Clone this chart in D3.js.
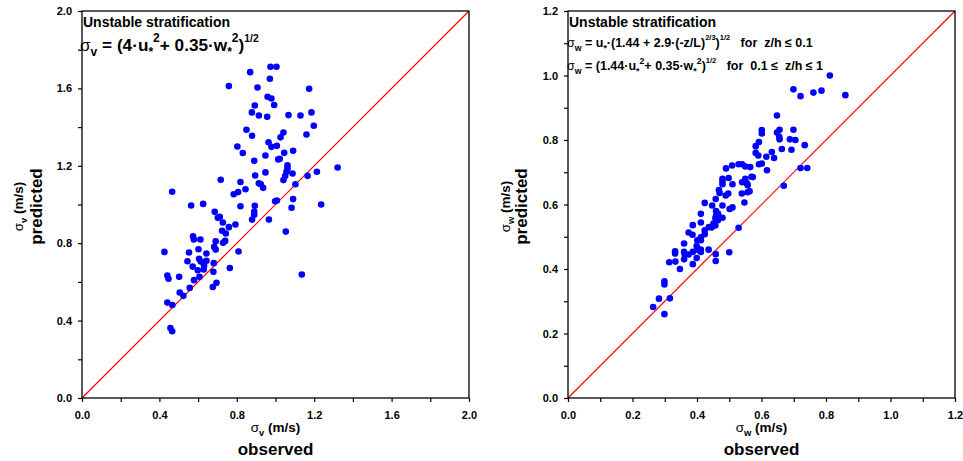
<!DOCTYPE html>
<html lang="en">
<head>
    <meta charset="UTF-8">
    <title>Unstable stratification - sigma v / sigma w</title>
    <style>
        body { margin: 0; background: #fff; }
        svg text { font-family: Arial, "Liberation Sans", sans-serif; }
    </style>
</head>
<body>
    <svg width="963" height="461"></svg>

    <script src="https://d3js.org/d3.v7.min.js"></script>
    <script>
        // sigma_v panel (left)
        let vObserved = [0.759, 0.869, 0.974, 1.005, 0.971, 0.907, 1.174, 0.959, 0.979, 0.893,
            0.993, 0.878, 0.914, 0.957, 1.067, 1.129, 1.186, 1.198, 1.160, 0.850,
            0.879, 1.041, 1.026, 0.964, 0.979, 1.007, 0.803, 0.831, 1.045, 1.091,
            0.948, 0.890, 1.014, 1.022, 1.062, 1.062, 1.057, 0.948, 0.895, 1.088,
            1.050, 1.041, 1.166, 1.214, 1.321, 0.717, 0.819, 0.914, 0.924, 0.936,
            1.103, 0.845, 0.784, 0.807, 0.466, 1.091, 0.998, 1.007, 1.236, 0.564,
            0.626, 0.819, 0.893, 1.083, 0.686, 0.890, 0.890, 0.712, 0.702, 0.879,
            0.966, 0.728, 0.759, 0.793, 0.724, 0.743, 1.053, 0.740, 0.691, 0.729,
            0.683, 0.691, 0.574, 0.578, 0.612, 0.602, 0.553, 0.426, 0.643, 0.809,
            0.605, 0.614, 0.643, 0.545, 0.572, 0.598, 0.629, 0.631, 0.681, 0.764,
            0.679, 0.441, 0.447, 0.502, 0.579, 0.607, 0.695, 0.676, 0.557, 0.505,
            0.524, 0.441, 0.467, 1.136, 0.457, 0.466];
        let vPredicted = [1.612, 1.684, 1.712, 1.712, 1.650, 1.605, 1.598, 1.557, 1.548, 1.512,
            1.514, 1.476, 1.460, 1.453, 1.462, 1.460, 1.476, 1.407, 1.362, 1.386,
            1.355, 1.372, 1.347, 1.322, 1.298, 1.303, 1.300, 1.266, 1.267, 1.278,
            1.253, 1.226, 1.233, 1.236, 1.203, 1.186, 1.169, 1.166, 1.150, 1.160,
            1.147, 1.126, 1.148, 1.169, 1.191, 1.128, 1.116, 1.110, 1.105, 1.086,
            1.105, 1.079, 1.053, 1.064, 1.066, 1.028, 1.017, 1.021, 1.000, 0.995,
            1.003, 0.991, 0.993, 0.983, 0.962, 0.964, 0.947, 0.936, 0.931, 0.922,
            0.922, 0.907, 0.883, 0.897, 0.864, 0.850, 0.860, 0.812, 0.810, 0.802,
            0.781, 0.767, 0.836, 0.819, 0.819, 0.769, 0.752, 0.755, 0.747, 0.757,
            0.719, 0.705, 0.709, 0.707, 0.679, 0.660, 0.664, 0.684, 0.697, 0.672,
            0.652, 0.633, 0.616, 0.626, 0.609, 0.626, 0.595, 0.574, 0.569, 0.545,
            0.528, 0.493, 0.481, 0.638, 0.362, 0.345];

        // sigma_w panel (right)
        let wObserved = [0.812, 0.699, 0.721, 0.761, 0.786, 0.860, 0.648, 0.601, 0.601, 0.656,
            0.699, 0.648, 0.655, 0.656, 0.688, 0.705, 0.693, 0.663, 0.734, 0.592,
            0.582, 0.582, 0.590, 0.632, 0.615, 0.639, 0.592, 0.601, 0.617, 0.721,
            0.742, 0.669, 0.509, 0.490, 0.529, 0.540, 0.550, 0.565, 0.479, 0.479,
            0.479, 0.498, 0.510, 0.540, 0.550, 0.555, 0.557, 0.563, 0.573, 0.569,
            0.468, 0.470, 0.489, 0.497, 0.539, 0.557, 0.458, 0.447, 0.479, 0.510,
            0.501, 0.547, 0.424, 0.412, 0.459, 0.465, 0.459, 0.469, 0.479, 0.457,
            0.465, 0.412, 0.451, 0.457, 0.445, 0.437, 0.424, 0.424, 0.387, 0.374,
            0.386, 0.412, 0.401, 0.412, 0.360, 0.399, 0.401, 0.412, 0.412, 0.436,
            0.387, 0.374, 0.360, 0.362, 0.332, 0.332, 0.360, 0.333, 0.314, 0.399,
            0.387, 0.347, 0.458, 0.458, 0.500, 0.529, 0.299, 0.299, 0.282, 0.316,
            0.264, 0.299];
        let wPredicted = [1.000, 0.957, 0.936, 0.947, 0.953, 0.939, 0.876, 0.831, 0.820, 0.832,
            0.832, 0.823, 0.810, 0.802, 0.802, 0.800, 0.770, 0.772, 0.784, 0.794,
            0.781, 0.760, 0.752, 0.763, 0.748, 0.744, 0.725, 0.727, 0.706, 0.713,
            0.713, 0.658, 0.721, 0.712, 0.725, 0.725, 0.718, 0.716, 0.680, 0.671,
            0.663, 0.682, 0.663, 0.669, 0.680, 0.666, 0.660, 0.641, 0.685, 0.686,
            0.645, 0.636, 0.628, 0.634, 0.634, 0.638, 0.617, 0.597, 0.597, 0.591,
            0.586, 0.606, 0.605, 0.571, 0.580, 0.572, 0.565, 0.561, 0.559, 0.557,
            0.551, 0.544, 0.541, 0.535, 0.529, 0.530, 0.520, 0.508, 0.536, 0.513,
            0.506, 0.498, 0.489, 0.489, 0.479, 0.471, 0.460, 0.460, 0.453, 0.460,
            0.453, 0.445, 0.453, 0.444, 0.455, 0.448, 0.430, 0.423, 0.421, 0.434,
            0.415, 0.400, 0.446, 0.425, 0.452, 0.528, 0.362, 0.352, 0.308, 0.309,
            0.282, 0.260];

        let vMajorTicks = [0.0, 0.4, 0.8, 1.2, 1.6, 2.0];
        let vMinorTicks = [0.2, 0.6, 1.0, 1.4, 1.8];
        let wMajorTicks = [0.0, 0.2, 0.4, 0.6, 0.8, 1.0, 1.2];
        let wMinorTicks = [0.1, 0.3, 0.5, 0.7, 0.9, 1.1];

        let svg = d3.select("svg");
        let plotTop = 11, plotBottom = 398, plotSize = 387;

        // text with sub/superscripts: parts = [[text, mode, weight]]
        function richText(g, x, y, parts, size) {
            let t = g.append("text").attr("x", x).attr("y", y)
                .attr("font-size", size).attr("font-weight", "bold");
            let shift = 0;
            parts.forEach(function(p) {
                let target = 0, fs = size;
                if (p[1] === "sub") { target = size * 0.3; fs = size * 0.7; }
                if (p[1] === "sup") { target = -size * 0.5; fs = size * 0.7; }
                if (p[1] === "sup2") { target = -size * 0.55; fs = size * 0.6; }
                t.append("tspan")
                    .attr("dy", target - shift)
                    .attr("font-size", fs)
                    .attr("font-weight", p[2] || "bold")
                    .style("white-space", "pre")
                    .text(p[0]);
                shift = target;
            });
            return t;
        }

        function drawPanel(left, maxVal, major, minor, xs, ys, sym, ax) {
            let x = d3.scaleLinear().domain([0, maxVal]).range([left, left + plotSize]);
            let y = d3.scaleLinear().domain([0, maxVal]).range([plotBottom, plotTop]);
            let g = svg.append("g");

            g.append("g").attr("transform", "translate(0," + plotBottom + ")")
                .call(d3.axisBottom(x).tickValues(major).tickSize(4).tickPadding(9).tickFormat(d3.format(".1f")));
            g.append("g").attr("transform", "translate(0," + plotBottom + ")")
                .call(d3.axisBottom(x).tickValues(minor).tickSize(4).tickFormat(""));
            g.append("g").attr("transform", "translate(" + left + ",0)")
                .call(d3.axisLeft(y).tickValues(major).tickSize(4).tickPadding(6).tickFormat(d3.format(".1f")));
            g.append("g").attr("transform", "translate(" + left + ",0)")
                .call(d3.axisLeft(y).tickValues(minor).tickSize(4).tickFormat(""));
            g.selectAll(".domain").remove();
            g.selectAll(".tick line").attr("stroke", "#000").attr("stroke-width", 1.2);
            g.selectAll(".tick text").attr("font-size", 11).attr("font-weight", "bold")
                .attr("font-family", "Arial, 'Liberation Sans', sans-serif").attr("fill", "#000");

            // 1:1 line
            g.append("path")
                .attr("d", "M" + x(0) + "," + y(0) + "L" + x(maxVal) + "," + y(maxVal))
                .style("stroke", "red").style("stroke-width", "1.2px").style("fill", "none");

            g.append("rect").attr("x", left).attr("y", plotTop)
                .attr("width", plotSize).attr("height", plotSize)
                .attr("fill", "none").attr("stroke", "#000").attr("stroke-width", 1.3);

            g.selectAll("circle.pt").data(xs).enter().append("circle")
                .attr("class", "pt")
                .attr("cx", function(d) { return x(d); })
                .attr("cy", function(d, i) { return y(ys[i]); })
                .attr("r", 3.3)
                .attr("fill", "#0000ff");

            // axis titles
            let cx = left + plotSize / 2;
            let xt = richText(g, cx, 432, [["\u03c3", "", "normal"], [sym, "sub"], [" (m/s)", ""]], 13.5);
            xt.attr("text-anchor", "middle");
            g.append("text").attr("x", cx).attr("y", 455).attr("text-anchor", "middle")
                .attr("font-size", 17).attr("font-weight", "bold").text("observed");

            let cy = (plotTop + plotBottom) / 2 + 2;
            let yt = richText(g, 0, 0, [["\u03c3", "", "normal"], [sym, "sub"], [" (m/s)", ""]], 13.5);
            yt.attr("text-anchor", "middle")
                .attr("transform", "translate(" + (left - ax[0]) + "," + cy + ") rotate(-90)");
            g.append("text").attr("text-anchor", "middle")
                .attr("transform", "translate(" + (left - ax[1]) + "," + cy + ") rotate(-90)")
                .attr("font-size", 17).attr("font-weight", "bold").text("predicted");
            return g;
        }

        let gl = drawPanel(82, 2.0, vMajorTicks, vMinorTicks, vObserved, vPredicted, "v", [59, 40]);
        let gr = drawPanel(568, 1.2, wMajorTicks, wMinorTicks, wObserved, wPredicted, "w", [58, 41]);

        // annotations
        gl.append("text").attr("x", 83).attr("y", 27).attr("font-size", 14)
            .attr("font-weight", "bold").text("Unstable stratification");
        richText(gl, 80, 51, [
            ["\u03c3", "", "normal"], ["v", "sub"], [" = (4\u00b7u", ""], ["*", "sub"], ["2", "sup"],
            ["+ 0.35\u00b7w", ""], ["*", "sub"], ["2", "sup"], [")", ""], ["1/2", "sup2"]
        ], 17.2);

        gr.append("text").attr("x", 569).attr("y", 27).attr("font-size", 14)
            .attr("font-weight", "bold").text("Unstable stratification");
        richText(gr, 567, 47, [
            ["\u03c3", "", "normal"], ["w", "sub"], [" = u", ""], ["*", "sub"], ["\u00b7(1.44 + 2.9\u00b7(-z/L)", ""],
            ["2/3", "sup2"], [")", ""], ["1/2", "sup2"], ["   for  z/h \u2264 0.1", ""]
        ], 12.5);
        richText(gr, 567, 70, [
            ["\u03c3", "", "normal"], ["w", "sub"], [" = (1.44\u00b7u", ""], ["*", "sub"], ["2", "sup"],
            ["+ 0.35\u00b7w", ""], ["*", "sub"], ["2", "sup"], [")", ""], ["1/2", "sup2"],
            ["   for  0.1 \u2264  z/h \u2264 1", ""]
        ], 12.5);
    </script>
</body>
</html>
